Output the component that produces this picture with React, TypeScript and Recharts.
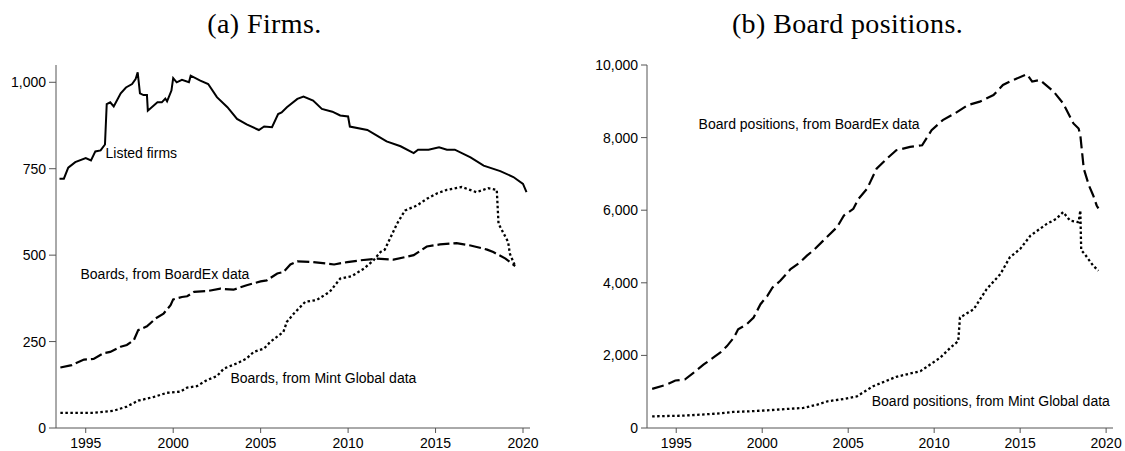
import React from "react";
import {
  LineChart,
  Line,
  XAxis,
  YAxis,
  ReferenceDot,
  Label,
} from "recharts";

// (a) Firms — monthly counts
const LISTED_YEARS = [1993.5, 1993.75, 1994.0, 1994.4, 1995.0, 1995.3, 1995.55, 1995.85, 1996.1, 1996.2, 1996.4, 1996.6, 1997.0, 1997.3, 1997.65, 1997.85, 1997.97, 1998.1, 1998.3, 1998.5, 1998.55, 1999.1, 1999.35, 1999.55, 1999.65, 1999.9, 2000.0, 2000.2, 2000.5, 2000.9, 2001.0, 2001.55, 2002.0, 2002.5, 2003.1, 2003.65, 2004.2, 2004.9, 2005.2, 2005.65, 2006.0, 2006.2, 2006.5, 2007.1, 2007.45, 2008.0, 2008.5, 2009.1, 2009.55, 2010.0, 2010.1, 2011.1, 2011.65, 2012.2, 2013.0, 2013.75, 2014.0, 2014.6, 2015.2, 2015.65, 2016.1, 2017.0, 2017.75, 2018.7, 2019.45, 2020.0, 2020.2];
const LISTED = [721, 721, 753, 769, 781, 774, 800, 803, 820, 937, 942, 930, 968, 985, 995, 1009, 1029, 968, 963, 963, 918, 942, 942, 953, 945, 976, 1012, 1000, 1007, 1000, 1019, 1005, 995, 957, 928, 894, 878, 862, 872, 870, 908, 913, 928, 952, 959, 947, 923, 915, 904, 901, 872, 862, 846, 829, 815, 795, 805, 805, 812, 805, 805, 783, 759, 743, 726, 706, 682];

const BOARDEX_YEARS = [1993.55, 1994.2, 1994.9, 1995.45, 1996.0, 1996.4, 1997.0, 1997.35, 1997.75, 1998.0, 1998.5, 1999.0, 1999.45, 1999.85, 2000.0, 2000.5, 2000.8, 2001.2, 2001.95, 2002.7, 2003.45, 2004.2, 2005.0, 2005.35, 2005.95, 2006.3, 2006.7, 2007.1, 2008.0, 2009.2, 2009.95, 2010.7, 2011.65, 2012.6, 2013.75, 2014.5, 2015.25, 2016.2, 2017.0, 2017.95, 2018.3, 2019.0, 2019.55];
const BOARDEX = [175, 182, 198, 200, 216, 220, 235, 240, 254, 283, 294, 317, 331, 355, 372, 379, 381, 394, 396, 403, 400, 413, 424, 427, 447, 451, 473, 482, 480, 473, 480, 485, 490, 487, 500, 525, 531, 535, 528, 516, 509, 490, 468];

const MINT_YEARS = [1993.55, 1995.45, 1996.6, 1997.35, 1998.0, 1998.9, 1999.65, 2000.4, 2000.8, 2001.35, 2001.95, 2002.5, 2002.9, 2003.65, 2004.2, 2004.6, 2005.2, 2005.55, 2006.3, 2006.5, 2006.9, 2007.55, 2008.2, 2008.95, 2009.55, 2010.2, 2010.9, 2011.45, 2011.85, 2012.1, 2012.8, 2013.25, 2013.95, 2014.5, 2015.1, 2015.65, 2016.5, 2017.35, 2018.0, 2018.5, 2018.6, 2019.15, 2019.25, 2019.55];
const MINT = [44, 44, 50, 62, 79, 90, 102, 105, 117, 121, 139, 150, 172, 187, 201, 220, 230, 249, 278, 307, 331, 365, 370, 394, 432, 439, 461, 485, 509, 516, 591, 629, 644, 663, 679, 689, 697, 682, 694, 689, 591, 538, 504, 468];

// (b) Board positions
const POS_BOARDEX_YEARS = [1993.6, 1994.45, 1994.95, 1995.5, 1996.0, 1996.6, 1997.15, 1997.55, 1997.95, 1998.35, 1998.6, 1999.1, 1999.5, 1999.9, 2000.3, 2000.6, 2001.05, 2001.65, 2002.2, 2002.6, 2003.0, 2003.55, 2004.35, 2004.75, 2005.3, 2005.6, 2006.1, 2006.65, 2007.25, 2007.8, 2008.6, 2009.3, 2009.85, 2010.5, 2011.2, 2011.95, 2012.65, 2013.45, 2014.0, 2014.6, 2015.4, 2015.7, 2016.15, 2016.95, 2017.5, 2018.1, 2018.4, 2018.5, 2018.7, 2019.0, 2019.25, 2019.45, 2019.55];
const POS_BOARDEX = [1079, 1198, 1308, 1336, 1521, 1751, 1936, 2074, 2257, 2489, 2719, 2857, 3043, 3411, 3640, 3872, 4055, 4379, 4564, 4747, 4904, 5161, 5532, 5853, 6038, 6315, 6591, 7144, 7421, 7651, 7745, 7789, 8204, 8481, 8666, 8895, 8990, 9172, 9449, 9587, 9745, 9543, 9587, 9266, 8943, 8390, 8251, 8066, 7144, 6683, 6406, 6130, 6050];

const POS_MINT_YEARS = [1993.6, 1995.4, 1996.4, 1997.35, 1998.3, 1999.3, 2000.3, 2001.45, 2002.4, 2003.2, 2003.8, 2004.75, 2005.5, 2006.45, 2007.8, 2009.2, 2010.35, 2010.95, 2011.4, 2011.5, 2012.3, 2013.05, 2013.85, 2014.4, 2015.0, 2015.6, 2016.55, 2017.1, 2017.5, 2017.9, 2018.4, 2018.5, 2018.55, 2018.75, 2019.25, 2019.55];
const POS_MINT = [321, 340, 368, 396, 443, 460, 487, 525, 553, 645, 736, 800, 870, 1151, 1411, 1566, 1936, 2213, 2395, 3043, 3272, 3825, 4240, 4702, 4932, 5300, 5623, 5761, 5947, 5715, 5670, 5991, 4900, 4794, 4470, 4332];

const YEAR_TICKS = [1995, 2000, 2005, 2010, 2015, 2020];
const FIRM_TICKS = [0, 250, 500, 750, 1000];
const POS_TICKS = [0, 2000, 4000, 6000, 8000, 10000];

const zip = (xs: number[], ys: number[]) => xs.map((year, i) => ({ year, v: ys[i] }));

const SANS = "'Liberation Sans', Arial, sans-serif";
const AXIS = "#555";
const tick = { fill: "#000", fontSize: 14, fontFamily: SANS };
const fmt = (v: number) => v.toLocaleString("en-US");

function TextAt({ x, y, text }: { x: number; y: number; text: string }) {
  return (
    <ReferenceDot x={x} y={y} r={0} fill="none" stroke="none">
      <Label value={text} position="right" offset={0} fill="#000" fontSize={14} fontFamily={SANS} />
    </ReferenceDot>
  );
}

export default function App() {
  return (
    <div style={{ position: "absolute", left: 0, top: 0, width: 1125, height: 451, background: "#fff" }}>
      <svg width={1125} height={50} style={{ position: "absolute", left: 0, top: 0 }}>
        <text x={264.5} y={33} textAnchor="middle" fontFamily="'Liberation Serif', serif" fontSize={28} letterSpacing={0.4}>
          (a) Firms.
        </text>
        <text x={847.5} y={33} textAnchor="middle" fontFamily="'Liberation Serif', serif" fontSize={28} letterSpacing={0.4}>
          (b) Board positions.
        </text>
      </svg>

      <div style={{ position: "absolute", left: 0, top: 0 }}>
        <LineChart width={560} height={451} margin={{ top: 65, right: 30, bottom: 0, left: 0 }}>
          <XAxis
            type="number"
            dataKey="year"
            domain={[1993.3, 2020.4]}
            ticks={YEAR_TICKS}
            allowDataOverflow
            height={23}
            tickSize={5}
            tickMargin={5}
            stroke={AXIS}
            tick={tick}
          />
          <YAxis
            type="number"
            domain={[0, 1050]}
            ticks={FIRM_TICKS}
            allowDataOverflow
            width={56}
            tickSize={7}
            tickMargin={3}
            stroke={AXIS}
            tick={tick}
            tickFormatter={fmt}
          />
          <Line data={zip(LISTED_YEARS, LISTED)} dataKey="v" type="linear" stroke="#000" strokeWidth={2} dot={false} isAnimationActive={false} />
          <Line data={zip(BOARDEX_YEARS, BOARDEX)} dataKey="v" type="linear" stroke="#000" strokeWidth={2.2} strokeDasharray="12 4" dot={false} isAnimationActive={false} />
          <Line data={zip(MINT_YEARS, MINT)} dataKey="v" type="linear" stroke="#000" strokeWidth={2.3} strokeDasharray="2.5 2.5" dot={false} isAnimationActive={false} />
          {TextAt({ x: 1996.13, y: 794, text: "Listed firms" })}
          {TextAt({ x: 1994.7, y: 445, text: "Boards, from BoardEx data" })}
          {TextAt({ x: 2003.27, y: 144, text: "Boards, from Mint Global data" })}
        </LineChart>
      </div>

      <div style={{ position: "absolute", left: 560, top: 0 }}>
        <LineChart width={565} height={451} margin={{ top: 65, right: 12, bottom: 0, left: 0 }}>
          <XAxis
            type="number"
            dataKey="year"
            domain={[1993.3, 2020.4]}
            ticks={YEAR_TICKS}
            allowDataOverflow
            height={23}
            tickSize={5}
            tickMargin={5}
            stroke={AXIS}
            tick={tick}
          />
          <YAxis
            type="number"
            domain={[0, 10000]}
            ticks={POS_TICKS}
            allowDataOverflow
            width={87}
            tickSize={6}
            tickMargin={3}
            stroke={AXIS}
            tick={tick}
            tickFormatter={fmt}
          />
          <Line data={zip(POS_BOARDEX_YEARS, POS_BOARDEX)} dataKey="v" type="linear" stroke="#000" strokeWidth={2.2} strokeDasharray="12 5" dot={false} isAnimationActive={false} />
          <Line data={zip(POS_MINT_YEARS, POS_MINT)} dataKey="v" type="linear" stroke="#000" strokeWidth={2.3} strokeDasharray="2.5 2.5" dot={false} isAnimationActive={false} />
          {TextAt({ x: 1996.3, y: 8361, text: "Board positions, from BoardEx data" })}
          {TextAt({ x: 2006.37, y: 736, text: "Board positions, from Mint Global data" })}
        </LineChart>
      </div>
    </div>
  );
}
